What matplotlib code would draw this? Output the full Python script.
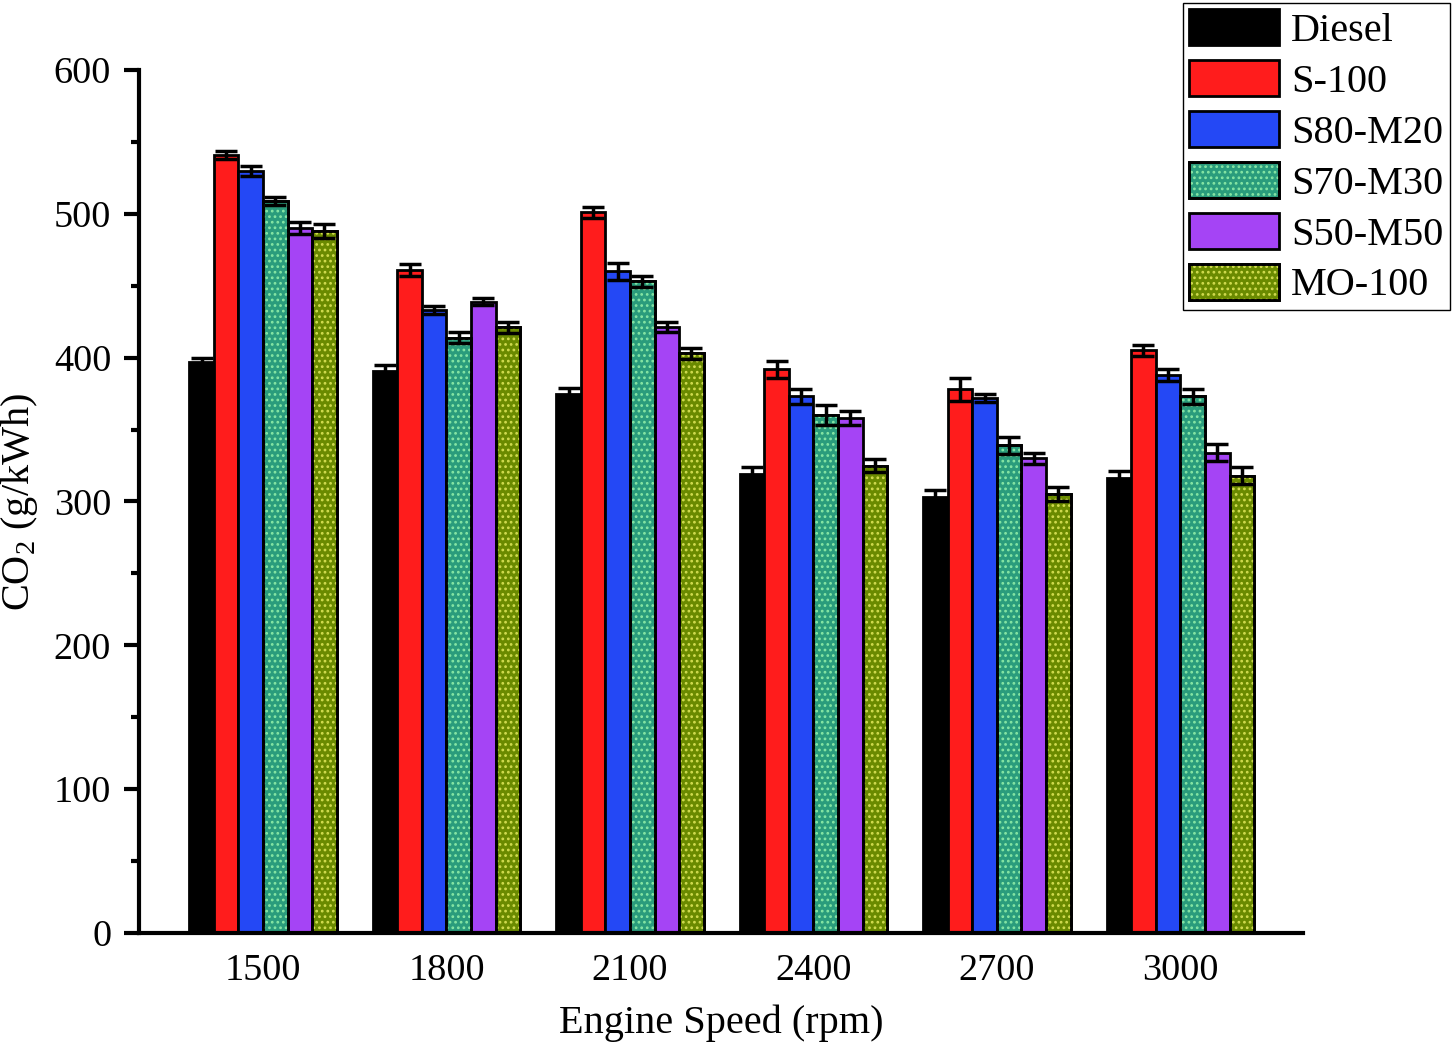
import matplotlib.pyplot as plt
import numpy as np

plt.rcParams['font.family'] = 'Liberation Serif'
plt.rcParams['mathtext.fontset'] = 'custom'
plt.rcParams['mathtext.rm'] = 'Liberation Serif'
plt.rcParams['hatch.linewidth'] = 1.2

speeds = ["1500", "1800", "2100", "2400", "2700", "3000"]
fuels = ["Diesel", "S-100", "S80-M20", "S70-M30", "S50-M50", "MO-100"]

diesel = [397, 391, 375, 319, 303, 316]
s100 = [541, 461, 501, 392, 378, 405]
s80_m20 = [530, 433, 460, 373, 372, 388]
s70_m30 = [509, 414, 453, 360, 339, 373]
s50_m50 = [490, 439, 421, 358, 330, 334]
mo100 = [488, 421, 403, 325, 305, 318]

diesel_err = [3, 4, 4, 5, 5, 5]
s100_err = [3, 4, 4, 6, 8, 4]
s80_m20_err = [3.5, 3, 6, 5, 3, 4]
s70_m30_err = [3, 3.5, 4, 7, 6, 5]
s50_m50_err = [4, 2.5, 3.5, 5, 4, 6]
mo100_err = [5, 4, 4, 4.5, 5, 6]

values = [diesel, s100, s80_m20, s70_m30, s50_m50, mo100]
errors = [diesel_err, s100_err, s80_m20_err, s70_m30_err, s50_m50_err, mo100_err]
colors = ["#000000", "#ff1c1c", "#2448f5", "#2a9c7c", "#a544f5", "#6a8a00"]
dots = [None, None, None, "#86e6a4", None, "#d2dc50"]

fig = plt.figure(figsize=(14.54, 10.49), dpi=100)
ax = fig.add_axes([0.0956, 0.1106, 0.8005, 0.8227])

x = np.arange(len(speeds))
w = 0.134
handles = []
for i in range(len(fuels)):
    pos = x + (i - 2.5) * w
    base = ax.bar(pos, values[i], w, color=colors[i], edgecolor="black", linewidth=2,
                  zorder=2)
    if dots[i]:
        # dotted texture on top of the fill, then the outline again
        tex = ax.bar(pos, values[i], w, fill=False, edgecolor=dots[i], linewidth=0,
                     hatch="...", zorder=2.5)
        edge = ax.bar(pos, values[i], w, fill=False, edgecolor="black", linewidth=2,
                      zorder=2.6)
        handles.append((base[0], tex[0], edge[0]))
    else:
        handles.append(base[0])
    ax.errorbar(pos, values[i], yerr=errors[i], fmt="none", ecolor="black",
                elinewidth=2.5, capsize=8, capthick=2.5, zorder=3)

ax.set_xlim(-0.676, 5.668)
ax.set_ylim(0, 600)
ax.set_xticks(x)
ax.set_xticklabels(speeds)
ax.set_yticks(range(0, 601, 100))
ax.set_yticks(range(50, 600, 100), minor=True)

for s in ["top", "right"]:
    ax.spines[s].set_visible(False)
for s in ["left", "bottom"]:
    ax.spines[s].set_linewidth(3)

ax.tick_params(axis="y", which="major", length=11, width=3, labelsize=27.5, pad=9)
ax.tick_params(axis="y", which="minor", length=6, width=3)
ax.tick_params(axis="x", length=0, labelsize=27.5, pad=15)

ax.set_xlabel("Engine Speed (rpm)", fontsize=29, labelpad=12)
ax.set_ylabel("CO$_2$ (g/kWh)", fontsize=29, labelpad=10)

leg = fig.legend(handles, fuels, loc="upper right", bbox_to_anchor=(0.997, 0.997),
                 fontsize=29, handlelength=2.25, handleheight=1.0, labelspacing=0.25,
                 handletextpad=0.3, borderpad=0.15, borderaxespad=0,
                 fancybox=False, framealpha=1)
leg.get_frame().set_edgecolor("black")
leg.get_frame().set_linewidth(1)

fig.savefig("out.png", dpi=100)
